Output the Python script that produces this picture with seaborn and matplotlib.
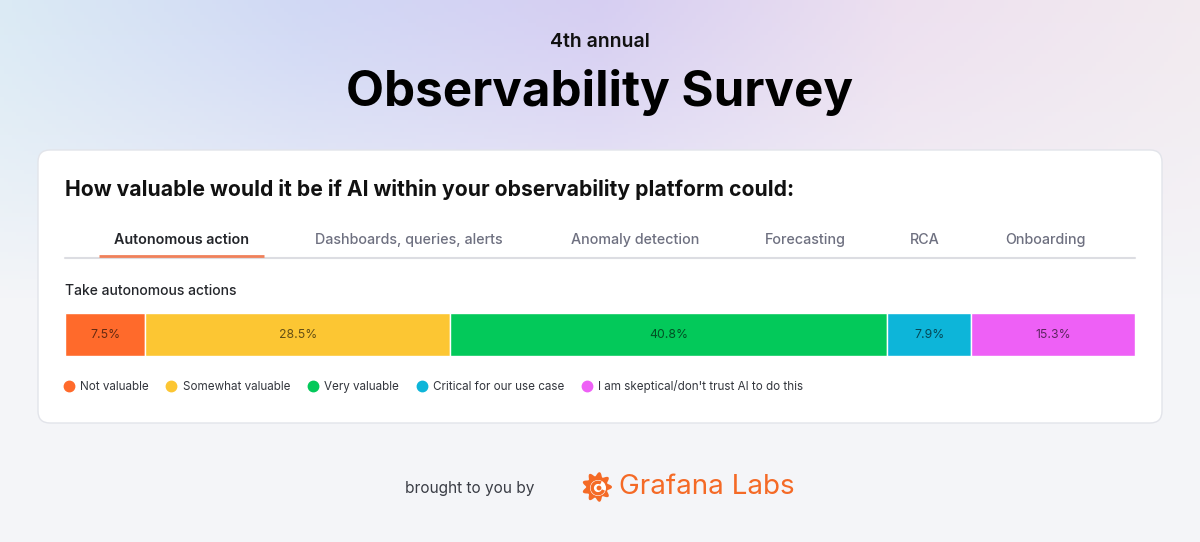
import numpy as np
import matplotlib
matplotlib.use("Agg")
import matplotlib.pyplot as plt
import seaborn as sns
from matplotlib.patches import FancyBboxPatch, Polygon, Circle, Arc
from matplotlib.lines import Line2D

# Dados
categorias = ["Not valuable", "Somewhat valuable", "Very valuable",
              "Critical for our use case", "I am skeptical/don't trust AI to do this"]
valores = [7.5, 28.5, 40.8, 7.9, 15.3]
cores = ["#FF6A2B", "#FCC633", "#03C95A", "#0DB5D9", "#EE60F6"]
abas = ["Autonomous action", "Dashboards, queries, alerts", "Anomaly detection",
        "Forecasting", "RCA", "Onboarding"]
abas_x = [181, 409, 635, 805, 925, 1045]

sns.set_theme(style="white")
plt.rcParams['font.family'] = ['Inter', 'DejaVu Sans']

fig = plt.figure(figsize=(12, 5.42), dpi=100)

# Fundo em pixels
ax_bg = fig.add_axes([0, 0, 1, 1])
ax_bg.set_xlim(0, 1200)
ax_bg.set_ylim(542, 0)
ax_bg.axis("off")

# Gradiente do topo
xs = np.linspace(0, 1, 300)
ys = np.linspace(0, 1, 140)
stops_x = [0.0, 0.25, 0.5, 0.75, 1.0]
stops_c = np.array([[0.86, 0.92, 0.96], [0.82, 0.85, 0.96], [0.84, 0.81, 0.95],
                    [0.93, 0.88, 0.94], [0.95, 0.92, 0.94]])
topo = np.stack([np.interp(xs, stops_x, stops_c[:, k]) for k in range(3)], axis=-1)
base = np.array([0.957, 0.961, 0.973])
fade = np.clip(ys / 0.55, 0, 1)[:, None, None] ** 1.3
img = topo[None, :, :] * (1 - fade) + base * fade
ax_bg.imshow(img, extent=(0, 1200, 542, 0), aspect="auto", zorder=0)

ax_bg.text(600, 42, "4th annual", ha="center", va="center", fontsize=14,
           fontweight="semibold", color="#111111")
ax_bg.text(600, 93, "Observability Survey", ha="center", va="center", fontsize=35.5,
           fontweight="bold", color="#000000")

# Cartão
card = FancyBboxPatch((38, 150), 1124, 273, boxstyle="round,pad=0,rounding_size=12",
                      fc="white", ec="#e2e4ea", lw=1, zorder=1)
ax_bg.add_patch(card)

ax_bg.text(65, 190, "How valuable would it be if AI within your observability platform could:",
           ha="left", va="center", fontsize=15.2, fontweight="bold", color="#111111", zorder=2)

for i, (aba, x) in enumerate(zip(abas, abas_x)):
    ativo = i == 0
    ax_bg.text(x, 240, aba, ha="center", va="center", fontsize=10.3,
               fontweight="semibold" if ativo else "medium",
               color="#24262b" if ativo else "#6e7080", zorder=2)
ax_bg.plot([65, 1135], [257.5, 257.5], color="#dcdde2", lw=1.5, zorder=2)
ax_bg.plot([99, 264], [256, 256], color="#F0805A", lw=2, zorder=3, solid_capstyle="butt")

ax_bg.text(65, 291, "Take autonomous actions", ha="left", va="center", fontsize=10,
           fontweight="medium", color="#24262b", zorder=2)

# Rodapé
ax_bg.text(534, 488, "brought to you by", ha="right", va="center", fontsize=11.1,
           color="#3a3d45", zorder=2)
ax_bg.text(619, 487, "Grafana Labs", ha="left", va="center", fontsize=20,
           color="#F46A26", zorder=2)
# logo Grafana (engrenagem simplificada)
cx, cy, r = 597, 487, 15
ang = np.linspace(0, 2 * np.pi, 181)
raio = r * (0.86 + 0.14 * np.cos(9 * ang))
ax_bg.add_patch(Polygon(np.c_[cx + raio * np.cos(ang), cy + raio * np.sin(ang)],
                        closed=True, fc="#F46A26", ec="none", zorder=3))
ax_bg.add_patch(Circle((cx + 1, cy + 1), 8, fc="white", ec="none", zorder=4))
ax_bg.add_patch(Arc((cx + 1, cy + 1), 11.5, 11.5, theta1=20, theta2=300, color="#F46A26",
                    lw=2.4, zorder=5))
ax_bg.add_patch(Circle((cx + 2, cy + 1), 2.4, fc="#F46A26", ec="none", zorder=5))

# Barra empilhada
ax = fig.add_axes([65 / 1200, 1 - 356 / 542, 1070 / 1200, 43 / 542])
esquerda = np.concatenate([[0], np.cumsum(valores)[:-1]])
ax.barh([0] * len(valores), valores, left=esquerda, height=1, color=cores,
        edgecolor="white", linewidth=1)
for v, l in zip(valores, esquerda):
    ax.text(l + v / 2, 0, f"{v}%", ha="center", va="center", fontsize=8.8,
            color="black", alpha=0.6)
ax.set_xlim(0, 100)
ax.set_ylim(-0.5, 0.5)
ax.axis("off")

handles = [Line2D([], [], marker="o", linestyle="none", markersize=7.5,
                  markerfacecolor=c, markeredgecolor=c) for c in cores]
ax.legend(handles, categorias, loc="center left", bbox_to_anchor=(-0.01, -0.70),
          ncol=5, frameon=False, fontsize=8.4, handlelength=0.7, handletextpad=0.6,
          columnspacing=1.6, labelcolor="#33363d")

fig.savefig("out.png", dpi=100)
